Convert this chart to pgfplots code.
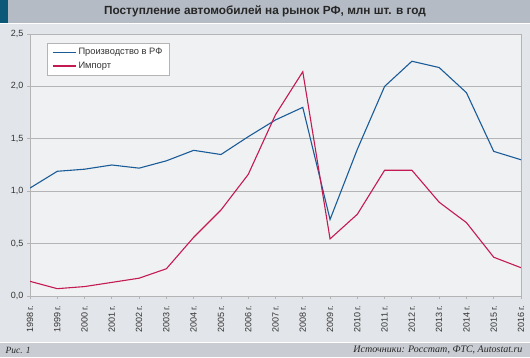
\documentclass[border=0pt]{standalone}
\usepackage{pgfplots}
\pgfplotsset{compat=1.18}
\usepackage{fontspec}
\setmainfont{Liberation Sans}
\newfontfamily\serifit{Liberation Serif}
\definecolor{titlebar}{HTML}{B4BBC4}
\definecolor{darkblue}{HTML}{0B5878}
\definecolor{mainbg}{HTML}{E2E5E9}
\definecolor{bottombar}{HTML}{C9CDD3}
\definecolor{plotbg}{HTML}{F0F1F3}
\definecolor{prodblue}{HTML}{1A5C98}
\definecolor{impred}{HTML}{C41A52}
\definecolor{gridgray}{HTML}{B4B4B4}
\begin{document}
\begin{tikzpicture}
\begin{scope}[x=1pt,y=1pt]
\useasboundingbox (0,0) rectangle (530,357);
\fill[titlebar] (0,334) rectangle (530,357);
\fill[darkblue] (0,334) rectangle (8,357);
\fill[white] (0,333) rectangle (530,334);
\fill[mainbg] (0,15) rectangle (530,333);
\fill[white] (0,14) rectangle (530,15);
\fill[bottombar] (0,0) rectangle (530,14);
\node[font=\bfseries\fontsize{11.8}{13}\selectfont, text=black!85] at (265,345.5) {Поступление автомобилей на рынок РФ, млн шт. в год};
\node[anchor=west, font=\serifit\itshape\fontsize{9.5}{10}\selectfont, text=black!85] at (2,7) {Рис. 1};
\node[anchor=east, font=\serifit\itshape\fontsize{10}{11}\selectfont, text=black!85] at (526,7) {Источники: Росстат, ФТС, Autostat.ru};
\end{scope}
\begin{axis}[
  at={(30pt,61pt)}, anchor=south west,
  scale only axis, width=491pt, height=262pt,
  xmin=1998, xmax=2016, ymin=0, ymax=2.5,
  xtick={1998,...,2016},
  xticklabels={1998 г.,1999 г.,2000 г.,2001 г.,2002 г.,2003 г.,2004 г.,2005 г.,2006 г.,2007 г.,2008 г.,2009 г.,2010 г.,2011 г.,2012 г.,2013 г.,2014 г.,2015 г.,2016 г.},
  xticklabel style={rotate=90, anchor=east, font=\fontsize{9}{10}\selectfont, text=black!80},
  xticklabel shift={3pt},
  ytick={0,0.5,1,1.5,2,2.5},
  yticklabel style={/pgf/number format/.cd, fixed, fixed zerofill, precision=1, use comma, assume math mode=true, /tikz/.cd, font=\fontsize{9}{10}\selectfont, text=black!80},
  ymajorgrids, major grid style={gridgray, line width=0.8pt},
  axis line style={gridgray, line width=0.8pt},
  tick style={gridgray, line width=0.8pt},
  tick align=outside, major tick length=3pt,
  xtick pos=bottom, ytick pos=left,
  axis background/.style={fill=plotbg},
  legend style={at={(17/491,1-9/262)}, anchor=north west, draw=gridgray, fill=white, font=\fontsize{9.3}{10}\selectfont, text=black!80, inner xsep=5pt, inner ysep=3pt, row sep=2pt, legend cell align=left},
  legend image code/.code={\draw[#1, line width=1.3pt] (0pt,0pt) -- (23pt,0pt);},
  every axis plot/.append style={line width=1.1pt},
]
\addplot[prodblue] coordinates {
(1998,1.03) (1999,1.19) (2000,1.21) (2001,1.25) (2002,1.22) (2003,1.29) (2004,1.39) (2005,1.35) (2006,1.52) (2007,1.68) (2008,1.80) (2009,0.73) (2010,1.40) (2011,2.00) (2012,2.24) (2013,2.18) (2014,1.94) (2015,1.38) (2016,1.30)};
\addlegendentry{Производство в РФ}
\addplot[impred] coordinates {
(1998,0.14) (1999,0.07) (2000,0.09) (2001,0.13) (2002,0.17) (2003,0.26) (2004,0.56) (2005,0.82) (2006,1.16) (2007,1.73) (2008,2.14) (2009,0.545) (2010,0.78) (2011,1.20) (2012,1.20) (2013,0.895) (2014,0.70) (2015,0.37) (2016,0.27)};
\addlegendentry{Импорт}
\end{axis}
\end{tikzpicture}
\end{document}
